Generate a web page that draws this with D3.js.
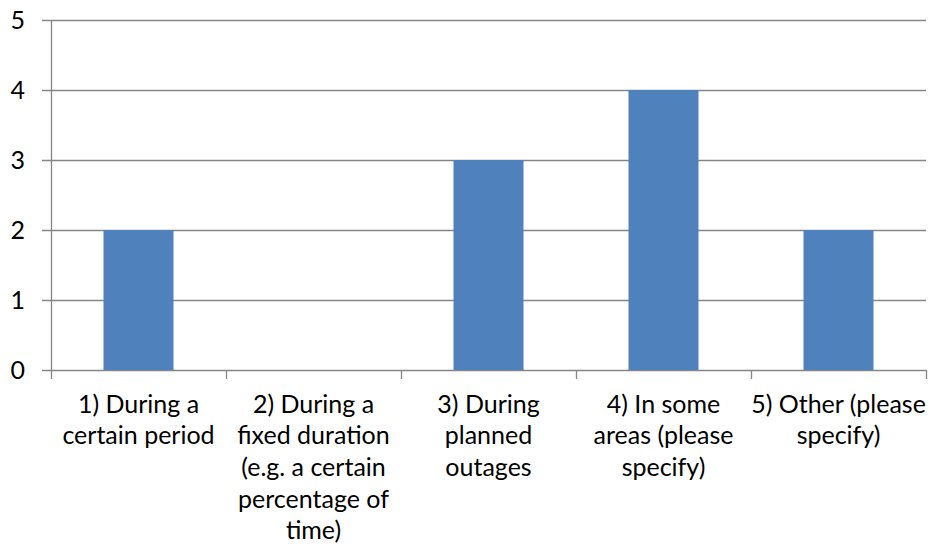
<!DOCTYPE html>
<html>
<head>
<meta charset="utf-8">
<script src="https://cdn.jsdelivr.net/npm/d3@7"></script>
<style>
  html, body { margin: 0; padding: 0; background: #fff; }
  svg { display: block; }
  text { font-family: Lato, "Open Sans", sans-serif; fill: #000; }
</style>
</head>
<body>
<svg id="chart" width="929" height="547"></svg>
<script>
// Responses per option
const categories = [
  "1) During a certain period",
  "2) During a fixed duration (e.g. a certain percentage of time)",
  "3) During planned outages",
  "4) In some areas (please specify)",
  "5) Other (please specify)"
];
const values = [2, 0, 3, 4, 2];
// Wrapped axis label lines for each category
const labelLines = [
  ["1) During a", "certain period"],
  ["2) During a", "fixed duration", "(e.g. a certain", "percentage of", "time)"],
  ["3) During", "planned", "outages"],
  ["4) In some", "areas (please", "specify)"],
  ["5) Other (please", "specify)"]
];
const yTicks = [0, 1, 2, 3, 4, 5];

const margin = { left: 51, right: 3, top: 20, bottom: 177 };
const W = 929, H = 547;
const innerW = W - margin.left - margin.right;
const innerH = H - margin.top - margin.bottom;

const svg = d3.select("#chart");
const g = svg.append("g").attr("transform", `translate(${margin.left},${margin.top})`);

const x = d3.scaleBand().domain(categories).range([0, innerW]).paddingInner(0.6).paddingOuter(0.3);
const xOuter = d3.scaleBand().domain(categories).range([0, innerW]);
const y = d3.scaleLinear().domain([0, 5]).range([innerH, 0]);

const gridColor = "#868686";

// Horizontal gridlines
g.selectAll("line.grid").data(yTicks).join("line")
  .attr("class", "grid")
  .attr("x1", -9).attr("x2", innerW)
  .attr("y1", d => Math.round(y(d)) + 0.5).attr("y2", d => Math.round(y(d)) + 0.5)
  .attr("stroke", gridColor).attr("stroke-width", 1.3);

// Vertical axis line
g.append("line")
  .attr("x1", 0.5).attr("x2", 0.5)
  .attr("y1", y(5)).attr("y2", innerH)
  .attr("stroke", gridColor).attr("stroke-width", 1.3);

// Y tick labels
g.selectAll("text.ytick").data(yTicks).join("text")
  .attr("class", "ytick")
  .attr("x", -26).attr("y", d => y(d))
  .attr("dy", "0.35em")
  .attr("text-anchor", "end")
  .attr("font-size", 25)
  .text(d => d);

// Bars
g.selectAll("rect.bar").data(categories).join("rect")
  .attr("class", "bar")
  .attr("x", d => x(d))
  .attr("width", x.bandwidth())
  .attr("y", (d, i) => y(values[i]))
  .attr("height", (d, i) => innerH - y(values[i]))
  .attr("fill", "#4F81BD");

// Bottom category separator ticks
const bounds = categories.map(c => xOuter(c)).concat([innerW]);
g.selectAll("line.xtick").data(bounds).join("line")
  .attr("class", "xtick")
  .attr("x1", d => Math.round(d) + 0.5).attr("x2", d => Math.round(d) + 0.5)
  .attr("y1", innerH).attr("y2", innerH + 9)
  .attr("stroke", gridColor).attr("stroke-width", 1.3);

// Category labels
const lab = g.selectAll("text.xlab").data(categories).join("text")
  .attr("class", "xlab")
  .attr("text-anchor", "middle")
  .attr("font-size", 25)
  .attr("transform", d => `translate(${xOuter(d) + xOuter.bandwidth() / 2},${innerH + 42.5})`);
lab.selectAll("tspan").data((d, i) => labelLines[i]).join("tspan")
  .attr("x", 0)
  .attr("y", (d, j) => j * 31.7)
  .text(d => d);
</script>
</body>
</html>
